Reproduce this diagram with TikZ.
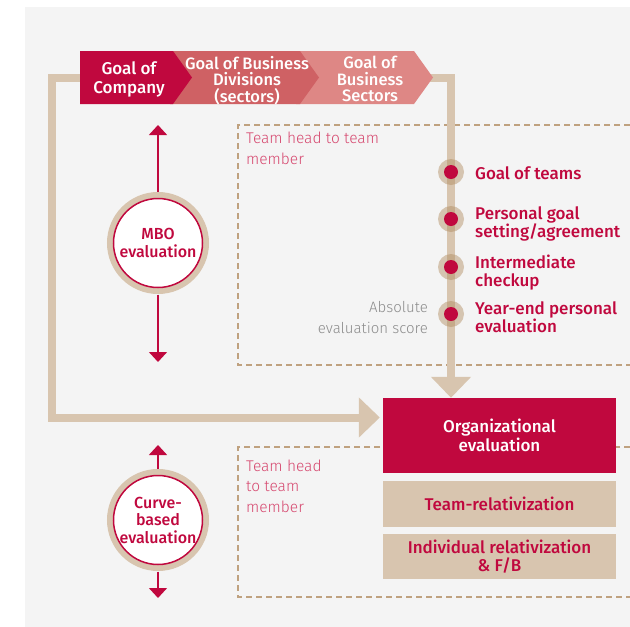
\documentclass[tikz,border=0pt]{standalone}
\usepackage{fontspec}
\setmainfont{Fira Sans}
\IfFontExistsTF{Fira Sans Medium}{\newfontfamily\fmed{Fira Sans Medium}}{%
  \IfFontExistsTF{FiraSans-Medium}{\newfontfamily\fmed{FiraSans-Medium}}{%
    \newfontfamily\fmed{Fira Sans}[FakeBold=1.3]}}
\IfFontExistsTF{Fira Sans Light}{\newfontfamily\flight{Fira Sans Light}}{%
  \IfFontExistsTF{FiraSans-Light}{\newfontfamily\flight{FiraSans-Light}}{%
    \newfontfamily\flight{Fira Sans}}}
\usetikzlibrary{arrows.meta}
\definecolor{lgred}{HTML}{C0083E}
\definecolor{chevb}{HTML}{CF6164}
\definecolor{chevc}{HTML}{DE8785}
\definecolor{beige}{HTML}{D8C5AF}
\definecolor{dashcol}{HTML}{BFA17F}
\definecolor{ringcol}{HTML}{B08A5E}
\definecolor{pinktext}{HTML}{D6486F}
\definecolor{graytext}{HTML}{8C8C8C}
\definecolor{bggray}{HTML}{F4F4F4}
\begin{document}
\begin{tikzpicture}[x=1pt,y=-1pt,
  chevtext/.style={text=white, inner sep=0, align=center},
  lbl/.style={anchor=north west, inner sep=0, text=lgred, align=left, font=\fmed\fontsize{17}{18}\selectfont},
  thintext/.style={anchor=north west, inner sep=0, text=pinktext, align=left, font=\flight\fontsize{15.5}{20.5}\selectfont},
  evalcirc/.style={circle, minimum size=89pt, inner sep=0, fill=white, draw=lgred, line width=1.5pt, outer sep=7pt, preaction={draw=beige, line width=13pt}},
  circtext/.style={text=lgred, align=center, font=\fmed\fontsize{16}{17.5}\selectfont},
  bigarrow/.style={draw=beige, line width=8pt, -{Triangle[width=39pt,length=21pt]}},
  twoway/.style={draw=lgred, line width=1.5pt, -{Triangle[width=18pt,length=10pt]}},
  dashbox/.style={draw=dashcol, line width=1.4pt, dash pattern=on 6pt off 4pt},
  evbox/.style={minimum width=233pt, inner sep=0, align=center, font=\fmed\fontsize{17}{18.5}\selectfont},
  ring/.style={fill=ringcol, fill opacity=0.45},
]
\useasboundingbox (0,0) rectangle (630,627);
\fill[white] (0,0) rectangle (630,627);
\fill[bggray] (25,7) rectangle (630,627);

% dashed frames
\draw[dashbox] (630,125) -- (238,125) -- (238,365) -- (630,365);
\draw[dashbox] (630,447) -- (238,447) -- (238,597) -- (630,597);

% evaluation boxes
\node[evbox, fill=lgred, text=white, minimum height=75pt] (org) at (499.5,435.5) {Organizational\\evaluation};
\node[evbox, fill=beige, text=lgred, minimum height=46pt] (team) at (499.5,504) {Team-relativization};
\node[evbox, fill=beige, text=lgred, minimum height=45pt] (ind) at (499.5,556.5) {Individual relativization\\\& F/B};

% chevron reference points
\coordinate (c1w) at (80,78);
\coordinate (lcorner) at (52,78);
\coordinate (c3tip) at (428,78);

% thick beige flows
\draw[bigarrow] (c1w) -- (lcorner) |- ([shift={(-3,-18)}]org.west);
\draw[bigarrow] (c3tip) -| ([xshift=-48.5pt]org.north);

% chevrons
\fill[chevc] (296,51) -- (414,51) -- (433,77.5) -- (414,104) -- (296,104) -- cycle;
\fill[chevb] (170,51) -- (300,51) -- (319,77.5) -- (300,104) -- (170,104) -- cycle;
\fill[lgred] (80,51) -- (173,51) -- (192,77.5) -- (173,104) -- (80,104) -- cycle;
\node[chevtext, font=\fmed\fontsize{17}{18.5}\selectfont] (c1) at (129,79.5) {Goal of\\Company};
\node[chevtext, font=\fmed\fontsize{16.5}{16.5}\selectfont] (c2) at (247,80.5) {Goal of Business\\Divisions\\(sectors)};
\node[chevtext, font=\fmed\fontsize{16.5}{16.5}\selectfont] (c3) at (370,79) {Goal of\\Business\\Sectors};

% milestones on the team line
\foreach \yy in {172,219,267,314}{
  \fill[ring] (451,\yy) circle[radius=13pt];
  \fill[lgred] (451,\yy) circle[radius=7pt];
}
\node[lbl] (g1) at (475,166) {Goal of teams};
\node[lbl] (g2) at (475,206) {Personal goal\\setting/agreement};
\node[lbl] (g3) at (475,255) {Intermediate\\checkup};
\node[lbl] (g4) at (475,301) {Year-end personal\\evaluation};
\node[anchor=north east, inner sep=0, text=graytext, align=right, font=\flight\fontsize{15}{21}\selectfont] (abs) at (428,301) {Absolute\\evaluation score};

% team-head notes
\node[thintext] (th1) at (246,132) {Team head to team\\member};
\node[thintext] (th2) at (246,459.5) {Team head\\to team\\member};

% MBO evaluation
\node[evalcirc, circtext] (mbo) at (158,243) {MBO\\evaluation};
\coordinate (mboup) at (158,125);
\coordinate (mbodown) at (158,362);
\draw[twoway] (mbo.north) -- (mboup);
\draw[twoway] (mbo.south) -- (mbodown);

% Curve-based evaluation
\node[evalcirc, label={[circtext]center:Curve-\\based\\evaluation}] (curve) at (158,520) {};
\coordinate (curveup) at (158,445);
\coordinate (curvedown) at (158,598);
\draw[twoway] (curve.north) -- (curveup);
\draw[twoway] (curve.south) -- (curvedown);
\end{tikzpicture}
\end{document}
